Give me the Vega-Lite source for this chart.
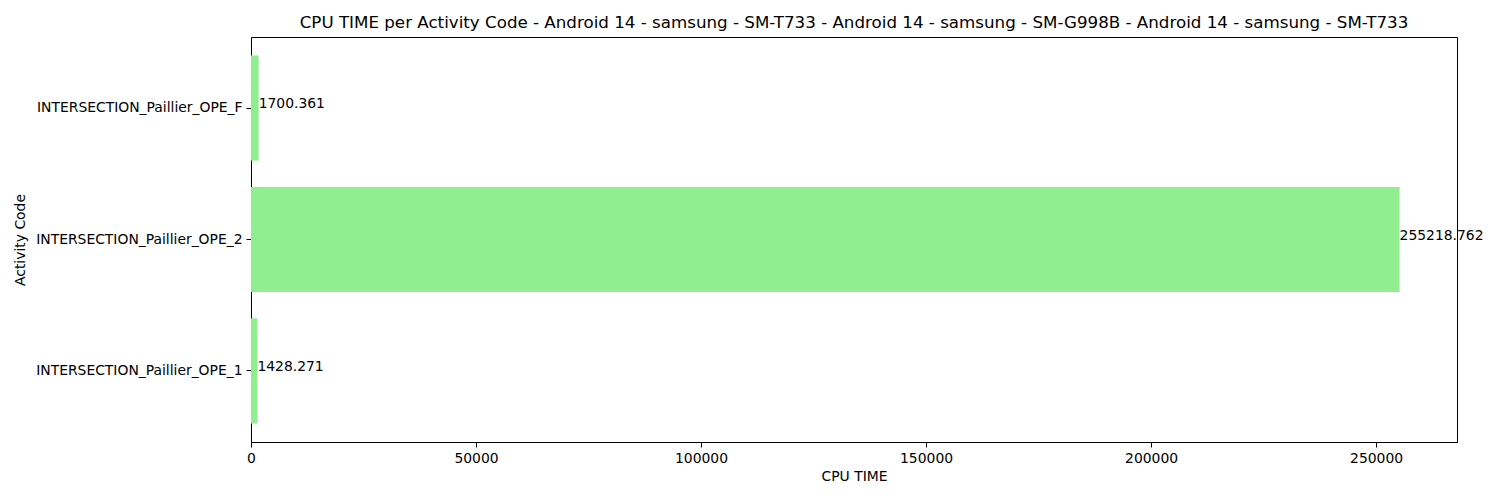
{
  "$schema": "https://vega.github.io/schema/vega-lite/v6.json",
  "autosize": "none",
  "padding": {"left": 251, "top": 37, "right": 43, "bottom": 58},
  "width": 1206,
  "height": 405,
  "background": "white",
  "config": {
    "font": "DejaVu Sans",
    "view": {"stroke": "black", "strokeWidth": 1},
    "axis": {
      "grid": false,
      "domainColor": "black",
      "tickColor": "black",
      "tickSize": 5,
      "labelColor": "black",
      "titleColor": "black",
      "labelFont": "DejaVu Sans",
      "titleFont": "DejaVu Sans",
      "labelFontSize": 13.9,
      "titleFontSize": 13.9,
      "titleFontWeight": "normal",
      "labelPadding": 4,
      "labelLimit": 0
    }
  },
  "title": {
    "text": "CPU TIME per Activity Code - Android 14 - samsung - SM-T733 - Android 14 - samsung - SM-G998B - Android 14 - samsung - SM-T733",
    "font": "DejaVu Sans",
    "fontSize": 16.7,
    "fontWeight": "normal",
    "color": "black",
    "anchor": "middle",
    "offset": 5
  },
  "data": {
    "values": [
      {"code": "INTERSECTION_Paillier_OPE_F", "cpu": 1700.361, "label": "1700.361"},
      {"code": "INTERSECTION_Paillier_OPE_2", "cpu": 255218.762, "label": "255218.762"},
      {"code": "INTERSECTION_Paillier_OPE_1", "cpu": 1428.271, "label": "1428.271"}
    ]
  },
  "encoding": {
    "y": {
      "field": "code",
      "type": "nominal",
      "sort": ["INTERSECTION_Paillier_OPE_F", "INTERSECTION_Paillier_OPE_2", "INTERSECTION_Paillier_OPE_1"],
      "scale": {"paddingInner": 0.2, "paddingOuter": 0.14},
      "axis": {"title": "Activity Code", "titleX": -231, "titleY": 202.5, "titleAngle": -90, "titleAlign": "center", "titleBaseline": "middle", "labelPadding": 4, "labelLimit": 0}
    },
    "x": {
      "field": "cpu",
      "type": "quantitative",
      "scale": {"domain": [0, 267979.7], "nice": false, "zero": true},
      "axis": {"title": "CPU TIME", "values": [0, 50000, 100000, 150000, 200000, 250000], "format": "d", "titlePadding": 5, "labelFlush": false}
    }
  },
  "layer": [
    {"mark": {"type": "bar", "color": "#90EE90"}},
    {
      "mark": {"type": "text", "align": "left", "baseline": "alphabetic", "fontSize": 13.9, "color": "black"},
      "encoding": {"text": {"field": "label", "type": "nominal"}}
    }
  ]
}
